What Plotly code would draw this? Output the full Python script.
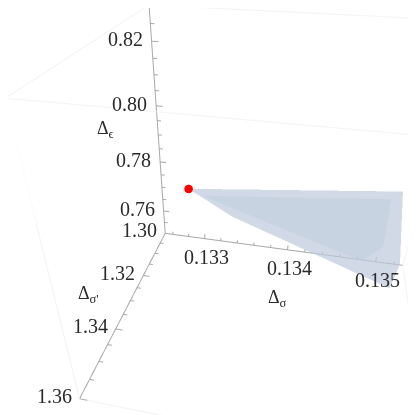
import plotly.graph_objects as go

# axis ranges and ticks
x_range = [0.1325, 0.1353]
y_range = [1.36, 1.30]
z_range = [0.75, 0.83]

x_major = [0.133, 0.134, 0.135]
x_minor = [0.1326, 0.1328, 0.1332, 0.1334, 0.1336, 0.1338, 0.1342, 0.1344, 0.1346, 0.1348, 0.1352]
y_major = [1.30, 1.32, 1.34, 1.36]
y_minor = [1.305, 1.31, 1.315, 1.325, 1.33, 1.335, 1.345, 1.35, 1.355]
z_major = [0.76, 0.78, 0.80, 0.82]
z_minor = [0.755, 0.765, 0.77, 0.775, 0.785, 0.79, 0.795, 0.805, 0.81, 0.815, 0.825]

# allowed region, estimated
hull_x = [0.13283, 0.1351, 0.1352, 0.1351, 0.13337, 0.1351, 0.1345]
hull_y = [1.301, 1.301, 1.307, 1.314, 1.305, 1.308, 1.302]
hull_z = [0.7714, 0.7795, 0.757, 0.7535, 0.7655, 0.765, 0.772]

# denser inner part of the region
inner_x = [0.1330, 0.1350, 0.1350, 0.1348, 0.1338, 0.1347]
inner_y = [1.302, 1.302, 1.306, 1.309, 1.305, 1.304]
inner_z = [0.770, 0.777, 0.762, 0.758, 0.766, 0.771]

point_x = [0.13283]
point_y = [1.301]
point_z = [0.7714]

x0, x1 = x_range
y1, y0 = y_range
z0, z1 = z_range
AXIS = "#a8a8a8"
BOX = "#f1f3f6"
TEXT = "#2a2a2a"

fig = go.Figure()


def segments(points, color):
    xs, ys, zs = [], [], []
    for a, b in points:
        xs += [a[0], b[0], None]
        ys += [a[1], b[1], None]
        zs += [a[2], b[2], None]
    fig.add_trace(go.Scatter3d(x=xs, y=ys, z=zs, mode="lines", hoverinfo="skip",
                               line=dict(color=color, width=2)))


# faint frame
segments([
    ((x0, y1, z1), (x1, y1, z1)), ((x0, y1, z1), (x0, y0, z1)), ((x0, y0, z1), (x1, y0, z1)),
    ((x1, y0, z1), (x1, y1, z1)), ((x1, y0, z0), (x1, y0, z1)), ((x1, y1, z0), (x1, y1, z1)),
    ((x0, y1, z0), (x0, y1, z1)), ((x0, y1, z0), (x1, y1, z0)), ((x1, y0, z0), (x1, y1, z0)),
], BOX)

# axes with their ticks, all on the far corner
dz = z1 - z0
dx = x1 - x0
ticks = [((x0, y0, z0), (x1, y0, z0)), ((x0, y0, z0), (x0, y1, z0)), ((x0, y0, z0), (x0, y0, z1))]
ticks += [((v, y0, z0), (v, y0, z0 + 0.025 * dz)) for v in x_major]
ticks += [((v, y0, z0), (v, y0, z0 + 0.015 * dz)) for v in x_minor]
ticks += [((x0, v, z0), (x0 + 0.025 * dx, v, z0)) for v in y_major]
ticks += [((x0, v, z0), (x0 + 0.015 * dx, v, z0)) for v in y_minor]
ticks += [((x0, y0, v), (x0 + 0.025 * dx, y0, v)) for v in z_major]
ticks += [((x0, y0, v), (x0 + 0.015 * dx, y0, v)) for v in z_minor]
segments(ticks, AXIS)

for mx, my, mz, alpha in [(hull_x, hull_y, hull_z, 0.45), (inner_x, inner_y, inner_z, 0.2)]:
    fig.add_trace(go.Mesh3d(
        x=mx, y=my, z=mz, alphahull=0,
        color="#c5d3e6", opacity=alpha, flatshading=True,
        lighting=dict(ambient=0.95, diffuse=0.2, specular=0.0),
        hoverinfo="skip",
    ))
fig.add_trace(go.Scatter3d(
    x=point_x, y=point_y, z=point_z, mode="markers", hoverinfo="skip",
    marker=dict(size=5, color="#ff0000"),
))


def label(x, y, z, text, xshift=0, yshift=0, anchor="center", size=20):
    return dict(x=x, y=y, z=z, text=text, showarrow=False, xanchor=anchor, yanchor="middle",
                xshift=xshift, yshift=yshift,
                font=dict(family="Liberation Serif", size=size, color=TEXT))


notes = [label(v, y0, z0, f"{v:.3f}", 2, -18) for v in x_major]
notes += [label(x0, v, z0, f"{v:.2f}", -6, 3, "right") for v in y_major]
notes += [label(x0, y0, v, f"{v:.2f}", -7, 2, "right") for v in z_major]
notes += [
    label((x0 + x1) / 2, y0, z0, "Δ<sub>σ</sub>", -2, -50, size=18),
    label(x0, (y0 + y1) / 2, z0, "Δ<sub>σ'</sub>", -42, 6, size=18),
    label(x0, y0, (z0 + z1) / 2, "Δ<sub>ϵ</sub>", -53, 5, size=18),
]


def hidden(rng):
    return dict(range=rng, visible=False)


# a hair wider than the box so lines on the faces are not clipped
fig.update_layout(
    width=416, height=415,
    margin=dict(l=0, r=0, t=0, b=0),
    paper_bgcolor="white", showlegend=False,
    scene=dict(
        xaxis=hidden([x0 - 1e-6, x1 + 1e-6]),
        yaxis=hidden([y1 + 1e-5, y0 - 1e-5]),
        zaxis=hidden([z0 - 1e-5, z1 + 1e-5]),
        aspectmode="manual", aspectratio=dict(x=1.2, y=1.03, z=1.13),
        camera=dict(
            center=dict(x=-0.199, y=-0.053, z=-0.014),
            eye=dict(x=0.124, y=-1.5, z=0.997),
            up=dict(x=0, y=0, z=1),
        ),
        annotations=notes,
    ),
)

fig.write_html("out.html")
